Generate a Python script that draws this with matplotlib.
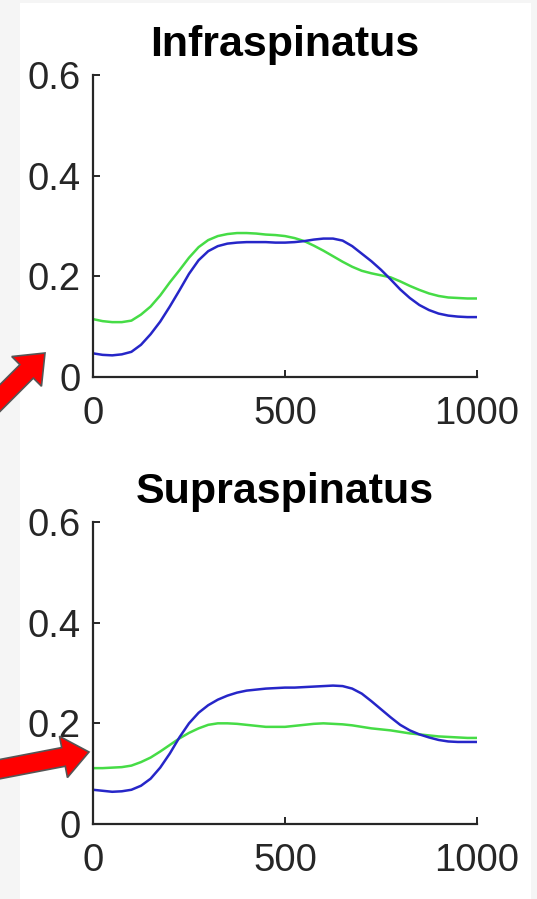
import matplotlib
matplotlib.use("Agg")
import matplotlib.pyplot as plt
from matplotlib.patches import Rectangle, FancyArrow

# ---- data ----
x = [0, 25, 50, 75, 100, 125, 150, 175, 200, 225, 250, 275, 300, 325, 350, 375, 400,
     425, 450, 475, 500, 525, 550, 575, 600, 625, 650, 675, 700, 725, 750, 775, 800,
     825, 850, 875, 900, 925, 950, 975, 1000]

infra_blue = [0.047, 0.044, 0.043, 0.045, 0.050, 0.064, 0.085, 0.110, 0.140, 0.172, 0.205,
              0.232, 0.250, 0.260, 0.265, 0.267, 0.268, 0.268, 0.268, 0.267, 0.267, 0.268,
              0.270, 0.273, 0.275, 0.275, 0.271, 0.260, 0.245, 0.230, 0.213, 0.194, 0.174,
              0.157, 0.143, 0.133, 0.126, 0.122, 0.120, 0.119, 0.119]
infra_green = [0.115, 0.111, 0.109, 0.109, 0.112, 0.124, 0.140, 0.162, 0.188, 0.212, 0.237,
               0.258, 0.272, 0.280, 0.284, 0.286, 0.286, 0.285, 0.283, 0.282, 0.280, 0.276,
               0.270, 0.261, 0.251, 0.240, 0.229, 0.219, 0.211, 0.206, 0.202, 0.198, 0.190,
               0.181, 0.173, 0.166, 0.161, 0.158, 0.157, 0.156, 0.156]

supra_blue = [0.068, 0.066, 0.064, 0.065, 0.068, 0.076, 0.090, 0.112, 0.140, 0.172, 0.200,
              0.221, 0.236, 0.247, 0.255, 0.261, 0.265, 0.267, 0.269, 0.270, 0.271, 0.271,
              0.272, 0.273, 0.274, 0.275, 0.274, 0.269, 0.259, 0.244, 0.228, 0.212, 0.197,
              0.186, 0.178, 0.172, 0.167, 0.164, 0.163, 0.163, 0.163]
supra_green = [0.111, 0.111, 0.112, 0.113, 0.116, 0.123, 0.132, 0.144, 0.157, 0.170, 0.181,
               0.190, 0.197, 0.200, 0.200, 0.199, 0.197, 0.195, 0.193, 0.193, 0.193, 0.195,
               0.197, 0.199, 0.200, 0.199, 0.198, 0.196, 0.193, 0.190, 0.188, 0.186, 0.183,
               0.180, 0.178, 0.176, 0.174, 0.173, 0.172, 0.171, 0.171]

titles = ["Infraspinatus", "Supraspinatus"]
xticks = [0, 500, 1000]
yticks = [0, 0.2, 0.4, 0.6]
yticklabels = ["0", "0.2", "0.4", "0.6"]

W, H = 537, 899
plt.rcParams['font.family'] = ['Liberation Sans', 'DejaVu Sans']
fig = plt.figure(figsize=(W / 100, H / 100), dpi=100, facecolor="#f5f5f5")

# white panel background
bg = fig.add_axes([0, 0, 1, 1], zorder=-10)
bg.set_xlim(0, W); bg.set_ylim(H, 0); bg.axis("off")
bg.add_patch(Rectangle((20, 3), 511, 900, facecolor="white", edgecolor="none"))

axis_col = "#262626"
blue = "#2626c8"
green = "#46dc46"

def px_axes(left, right, top, bottom):
    return [left / W, 1 - bottom / H, (right - left) / W, (bottom - top) / H]

series = [(infra_blue, infra_green), (supra_blue, supra_green)]
boxes = [px_axes(93, 477, 75, 377), px_axes(93, 477, 522, 824)]

for (b, g), box, title in zip(series, boxes, titles):
    ax = fig.add_axes(box)
    ax.patch.set_alpha(0)
    ax.plot(x, g, color=green, lw=1.8, solid_capstyle="round", solid_joinstyle="round")
    ax.plot(x, b, color=blue, lw=1.8, solid_capstyle="round", solid_joinstyle="round")
    ax.set_xlim(0, 1000)
    ax.set_ylim(0, 0.6)
    ax.set_xticks(xticks)
    ax.set_xticklabels([str(t) for t in xticks])
    ax.set_yticks(yticks)
    ax.set_yticklabels(yticklabels)
    for s in ["top", "right"]:
        ax.spines[s].set_visible(False)
    for s in ["left", "bottom"]:
        ax.spines[s].set_color(axis_col)
        ax.spines[s].set_linewidth(1.6)
    ax.tick_params(direction="in", length=5, width=1.4, color=axis_col,
                   labelsize=27.5, labelcolor=axis_col)
    ax.tick_params(axis="x", pad=14)
    ax.tick_params(axis="y", pad=9)
    ax.set_title(title, fontsize=31, fontweight="bold", color="black", pad=14)

# overlay for red arrows
ov = fig.add_axes([0, 0, 1, 1], zorder=10)
ov.set_xlim(0, W); ov.set_ylim(H, 0); ov.axis("off")
ov.patch.set_alpha(0)

def arrow(x0, y0, x1, y1):
    ov.add_patch(FancyArrow(x0, y0, x1 - x0, y1 - y0, width=19, head_width=42,
                            head_length=26, length_includes_head=True,
                            facecolor="#ff0000", edgecolor="#555555", lw=1.2))

arrow(-20, 418, 45, 353)
arrow(-15, 772, 89, 752)

fig.savefig("out.png", dpi=100, facecolor=fig.get_facecolor())
